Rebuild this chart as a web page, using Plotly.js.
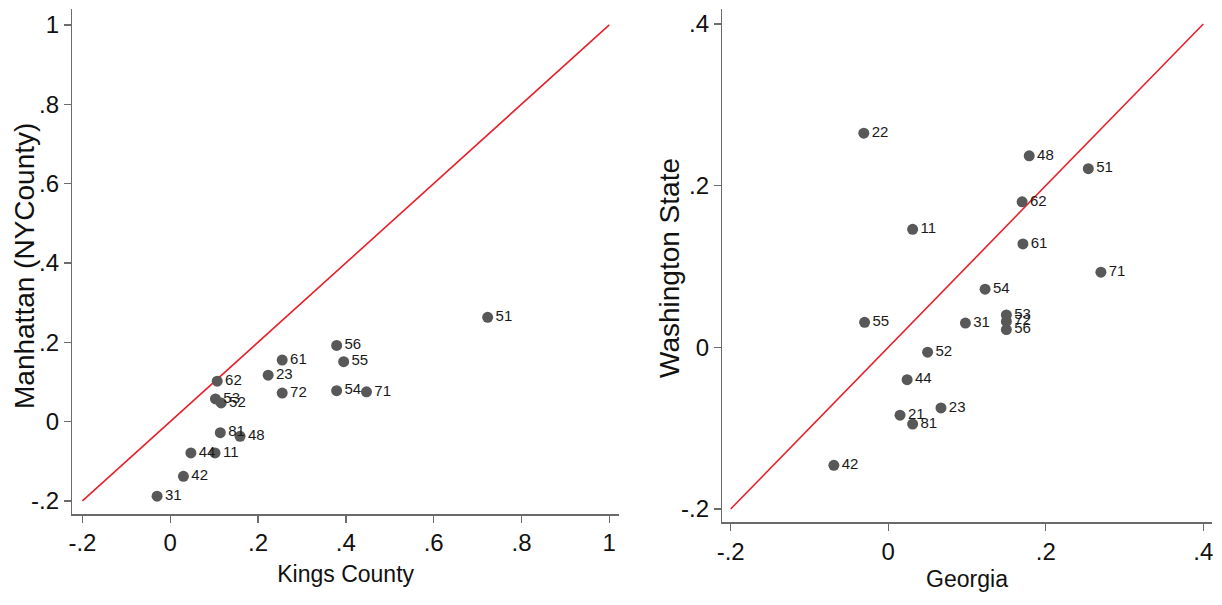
<!DOCTYPE html>
<html>
<head>
<meta charset="utf-8">
<script src="https://cdn.plot.ly/plotly-3.0.1.min.js"></script>
<style>html,body{margin:0;padding:0;background:#fff;}#chart{width:1222px;height:605px;}</style>
</head>
<body>
<div id="chart"></div>
<script>
// Left panel: Kings County (x) vs Manhattan (NYCounty) (y)
const leftLabels = ["51","56","55","61","23","72","54","71","62","53","52","81","48","44","11","42","31"];
const leftX = [0.723,0.379,0.395,0.255,0.223,0.255,0.379,0.447,0.107,0.103,0.116,0.114,0.159,0.047,0.102,0.030,-0.030];
const leftY = [0.263,0.192,0.151,0.155,0.117,0.072,0.078,0.075,0.102,0.057,0.047,-0.028,-0.037,-0.079,-0.079,-0.138,-0.188];

// Right panel: Georgia (x) vs Washington State (y)
const rightLabels = ["22","48","51","62","11","61","71","54","53","72","56","55","31","52","44","21","81","23","42"];
const rightX = [-0.031,0.179,0.254,0.170,0.031,0.171,0.270,0.123,0.150,0.150,0.150,-0.030,0.098,0.050,0.024,0.015,0.031,0.067,-0.069];
const rightY = [0.265,0.237,0.221,0.180,0.146,0.128,0.093,0.072,0.040,0.032,0.022,0.031,0.030,-0.006,-0.040,-0.084,-0.095,-0.075,-0.146];

// 45-degree reference lines
const leftDiag = [-0.2, 1];
const rightDiag = [-0.2, 0.4];

// Tick values / labels
const leftXTicks = [-0.2,0,0.2,0.4,0.6,0.8,1];
const leftXTickText = ["-.2","0",".2",".4",".6",".8","1"];
const leftYTicks = [-0.2,0,0.2,0.4,0.6,0.8,1];
const leftYTickText = ["-.2","0",".2",".4",".6",".8","1"];
const rightXTicks = [-0.2,0,0.2,0.4];
const rightXTickText = ["-.2","0",".2",".4"];
const rightYTicks = [-0.2,0,0.2,0.4];
const rightYTickText = ["-.2","0",".2",".4"];

// Axis titles
const leftXTitle = 'Kings County';
const leftYTitle = 'Manhattan (NYCounty)';
const rightXTitle = 'Georgia';
const rightYTitle = 'Washington State';

const narrow = '"Liberation Sans Narrow", "Arial Narrow", "Liberation Sans", Arial, sans-serif';
const regular = '"Liberation Sans", Arial, sans-serif';

const markerStyle = {color:'#585858', size:11, line:{width:0}};
const textStyle = {family:narrow, size:15, color:'#1a1a1a'};
const lineStyle = {color:'#e8202a', width:1.6};

const traces = [
  {x:leftDiag, y:leftDiag, mode:'lines', line:lineStyle, xaxis:'x', yaxis:'y', hoverinfo:'skip'},
  {x:leftX, y:leftY, text:leftLabels, mode:'markers+text', textposition:'middle right', marker:markerStyle, textfont:textStyle, xaxis:'x', yaxis:'y', cliponaxis:false},
  {x:rightDiag, y:rightDiag, mode:'lines', line:lineStyle, xaxis:'x2', yaxis:'y2', hoverinfo:'skip'},
  {x:rightX, y:rightY, text:rightLabels, mode:'markers+text', textposition:'middle right', marker:markerStyle, textfont:textStyle, xaxis:'x2', yaxis:'y2', cliponaxis:false}
];

const tickFont = {family:narrow, size:24, color:'#111'};
const axBase = {
  showgrid:false, zeroline:false, showline:true, linecolor:'#6b6b6b', linewidth:1.5,
  ticks:'outside', ticklen:7, tickwidth:1.3, tickcolor:'#6b6b6b', tickfont:tickFont, tickmode:'array'
};

const layout = {
  width:1222, height:605,
  margin:{l:0,r:0,t:0,b:0},
  paper_bgcolor:'#ffffff', plot_bgcolor:'#ffffff',
  showlegend:false,
  xaxis:Object.assign({}, axBase, {
    domain:[0.0592,0.5065], range:[-0.223,1.022], tickvals:leftXTicks, ticktext:leftXTickText, anchor:'y',
    title:{text:leftXTitle, font:{family:narrow, size:23, color:'#111'}, standoff:10}
  }),
  yaxis:Object.assign({}, axBase, {
    domain:[0.1504,0.985], range:[-0.233,1.040], tickvals:leftYTicks, ticktext:leftYTickText, anchor:'x'
  }),
  xaxis2:Object.assign({}, axBase, {
    domain:[0.5911,0.9916], range:[-0.2106,0.4107], tickvals:rightXTicks, ticktext:rightXTickText, anchor:'y2',
    title:{text:rightXTitle, font:{family:narrow, size:23, color:'#111'}, standoff:7}
  }),
  yaxis2:Object.assign({}, axBase, {
    domain:[0.1364,0.985], range:[-0.2167,0.4185], tickvals:rightYTicks, ticktext:rightYTickText, anchor:'x2'
  }),
  annotations:[
    {text:leftYTitle, xref:'paper', yref:'paper', x:24/1222, y:(605-266)/605, textangle:-90, showarrow:false,
     xanchor:'center', yanchor:'middle', font:{family:regular, size:28, color:'#111'}},
    {text:rightYTitle, xref:'paper', yref:'paper', x:670/1222, y:(605-268)/605, textangle:-90, showarrow:false,
     xanchor:'center', yanchor:'middle', font:{family:regular, size:28, color:'#111'}}
  ]
};

Plotly.newPlot('chart', traces, layout, {displayModeBar:false, staticPlot:true});
</script>
</body>
</html>
